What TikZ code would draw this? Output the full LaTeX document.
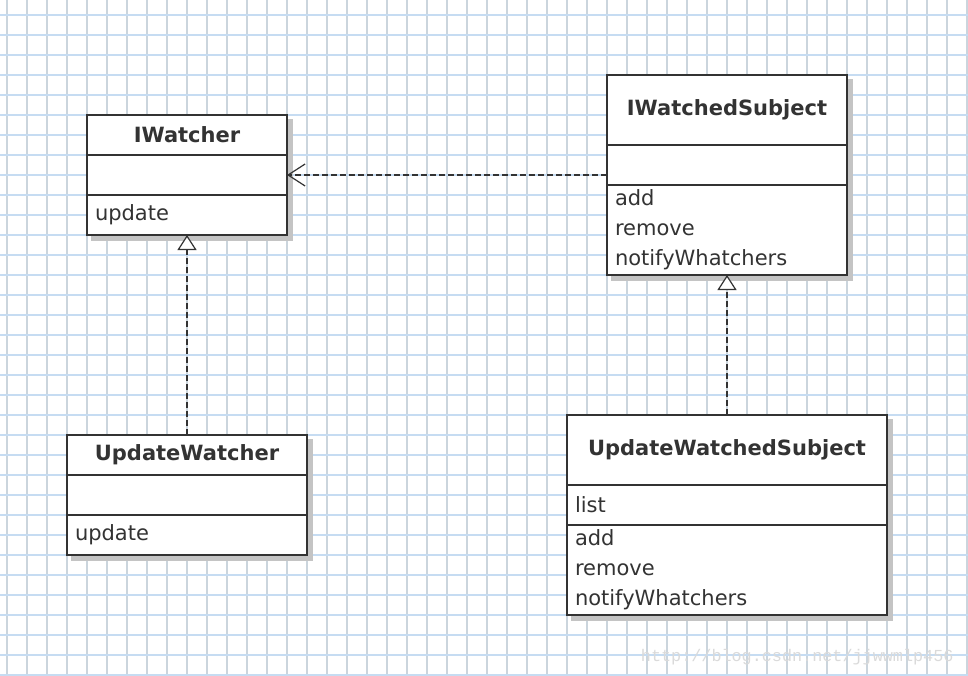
\documentclass[tikz,border=0pt]{standalone}
\usepackage{fontspec}
\setmainfont{DejaVu Sans}
\setmonofont{Liberation Mono}
\usetikzlibrary{positioning, arrows.meta, backgrounds, fit}
\definecolor{umlline}{HTML}{333333}
\definecolor{umltext}{HTML}{333333}
\definecolor{gridv}{HTML}{CBD5DD}
\definecolor{gridh}{HTML}{C6DCF2}
\definecolor{shadowgray}{HTML}{C4C4C4}
\definecolor{markgray}{HTML}{DADADA}
\tikzset{
    every node/.style={font=\fontsize{21}{30}\selectfont, text=umltext},
    classbox/.style={draw=umlline, fill=white, line width=1.6pt, inner sep=0pt, outer sep=0pt},
    classtitle/.style={classbox, font=\fontsize{21}{30}\selectfont\bfseries, minimum width=#1},
    members/.style={classbox, align=left, text width=#1, inner xsep=8pt},
    shadowbox/.style={fill=shadowgray, inner sep=0.8pt, xshift=5pt, yshift=-5pt},
    gridline/.style={line width=1.5pt},
    dependarrow/.style={draw=umlline, line width=1.2pt, dash pattern=on 6pt off 3pt,
        -{Straight Barb[length=17pt, width=22pt, line width=1.2pt]}},
    realizearrow/.style={draw=umlline, line width=1.2pt, dash pattern=on 6pt off 3pt,
        -{Triangle[fill=white, length=15pt, width=19pt, line width=1.2pt]}},
    watermark/.style={font=\fontsize{16.8}{18}\selectfont\ttfamily, text=markgray},
}

\begin{document}
\begin{tikzpicture}[x=1pt, y=-1pt]
\useasboundingbox (0,0) rectangle (968,676);

% interface IWatcher
\node[classtitle=200pt, minimum height=40pt, anchor=north west] (iw-t) at (87,115) {IWatcher};
\node[members=184pt, minimum height=40pt, below=0pt of iw-t] (iw-a) {};
\node[members=184pt, minimum height=40pt, below=0pt of iw-a] (iw-o) {update};

% interface IWatchedSubject
\node[classtitle=240pt, minimum height=70pt, anchor=north west] (iws-t) at (607,75) {IWatchedSubject};
\node[members=224pt, minimum height=40pt, below=0pt of iws-t] (iws-a) {};
\node[members=224pt, minimum height=90pt, below=0pt of iws-a] (iws-o) {add\\remove\\notifyWhatchers};

% class UpdateWatcher
\node[classtitle=240pt, minimum height=40pt, anchor=north west] (uw-t) at (67,435) {UpdateWatcher};
\node[members=224pt, minimum height=40pt, below=0pt of uw-t] (uw-a) {};
\node[members=224pt, minimum height=40pt, below=0pt of uw-a] (uw-o) {update};

% class UpdateWatchedSubject
\node[classtitle=320pt, minimum height=70pt, anchor=north west] (uws-t) at (567,415) {UpdateWatchedSubject};
\node[members=304pt, minimum height=40pt, below=0pt of uws-t] (uws-a) {list};
\node[members=304pt, minimum height=90pt, below=0pt of uws-a] (uws-o) {add\\remove\\notifyWhatchers};

% relations
\draw[dependarrow] (iw-a.east -| iws-a.west) -- (iw-a.east);
\draw[realizearrow] (uw-t.north) -- (iw-o.south);
\draw[realizearrow] (uws-t.north) -- (iws-o.south);

\node[watermark, anchor=east] (mark) at (957,657) {http://blog.csdn.net/jjwwmlp456};

%=========================
% grid paper and shadows
%=========================
\begin{scope}[on background layer]
  \fill[white] (0,0) rectangle (968,676);
  \foreach \x in {7,27,...,967}
    \draw[gridline, gridv] (\x,0) -- (\x,676);
  \foreach \y in {15,35,...,675}
    \draw[gridline, gridh] (0,\y) -- (968,\y);
  \foreach \c in {iw, iws, uw, uws}
    \node[shadowbox, fit=(\c-t)(\c-o)] (\c-s) {};
\end{scope}

\end{tikzpicture}
\end{document}
